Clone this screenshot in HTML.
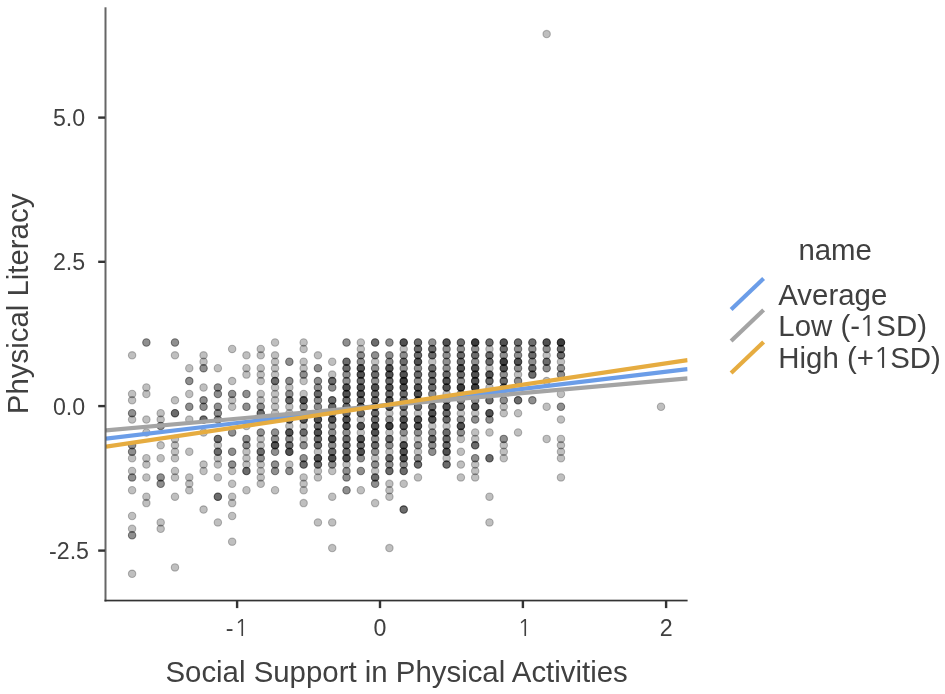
<!DOCTYPE html>
<html><head><meta charset="utf-8"><title>Plot</title><style>html,body{margin:0;padding:0;background:#fff;}svg{display:block;}</style></head><body>
<svg width="945" height="694" viewBox="0 0 945 694">
<rect width="945" height="694" fill="#fff"/>
<defs><clipPath id="pc"><rect x="106" y="0" width="581.6" height="600"/></clipPath></defs>
<g fill="#000" stroke="#000" stroke-width="1.1"><circle cx="132.10" cy="355.35" r="3.7" fill-opacity="0.250" stroke-opacity="0.250"/><circle cx="132.10" cy="393.90" r="3.7" fill-opacity="0.250" stroke-opacity="0.250"/><circle cx="132.10" cy="400.32" r="3.7" fill-opacity="0.250" stroke-opacity="0.250"/><circle cx="132.10" cy="413.18" r="3.7" fill-opacity="0.438" stroke-opacity="0.438"/><circle cx="132.10" cy="419.60" r="3.7" fill-opacity="0.250" stroke-opacity="0.250"/><circle cx="132.10" cy="445.30" r="3.7" fill-opacity="0.438" stroke-opacity="0.438"/><circle cx="132.10" cy="451.73" r="3.7" fill-opacity="0.438" stroke-opacity="0.438"/><circle cx="132.10" cy="458.15" r="3.7" fill-opacity="0.250" stroke-opacity="0.250"/><circle cx="132.10" cy="471.00" r="3.7" fill-opacity="0.250" stroke-opacity="0.250"/><circle cx="132.10" cy="477.42" r="3.7" fill-opacity="0.438" stroke-opacity="0.438"/><circle cx="132.10" cy="490.27" r="3.7" fill-opacity="0.250" stroke-opacity="0.250"/><circle cx="132.10" cy="515.98" r="3.7" fill-opacity="0.250" stroke-opacity="0.250"/><circle cx="132.10" cy="528.83" r="3.7" fill-opacity="0.250" stroke-opacity="0.250"/><circle cx="132.10" cy="535.25" r="3.7" fill-opacity="0.438" stroke-opacity="0.438"/><circle cx="132.10" cy="573.80" r="3.7" fill-opacity="0.250" stroke-opacity="0.250"/><circle cx="146.39" cy="342.50" r="3.7" fill-opacity="0.438" stroke-opacity="0.438"/><circle cx="146.39" cy="387.48" r="3.7" fill-opacity="0.250" stroke-opacity="0.250"/><circle cx="146.39" cy="393.90" r="3.7" fill-opacity="0.250" stroke-opacity="0.250"/><circle cx="146.39" cy="419.60" r="3.7" fill-opacity="0.250" stroke-opacity="0.250"/><circle cx="146.39" cy="432.45" r="3.7" fill-opacity="0.250" stroke-opacity="0.250"/><circle cx="146.39" cy="458.15" r="3.7" fill-opacity="0.250" stroke-opacity="0.250"/><circle cx="146.39" cy="464.57" r="3.7" fill-opacity="0.250" stroke-opacity="0.250"/><circle cx="146.39" cy="477.42" r="3.7" fill-opacity="0.250" stroke-opacity="0.250"/><circle cx="146.39" cy="496.70" r="3.7" fill-opacity="0.250" stroke-opacity="0.250"/><circle cx="146.39" cy="503.12" r="3.7" fill-opacity="0.250" stroke-opacity="0.250"/><circle cx="160.69" cy="413.18" r="3.7" fill-opacity="0.250" stroke-opacity="0.250"/><circle cx="160.69" cy="419.60" r="3.7" fill-opacity="0.250" stroke-opacity="0.250"/><circle cx="160.69" cy="426.02" r="3.7" fill-opacity="0.438" stroke-opacity="0.438"/><circle cx="160.69" cy="445.30" r="3.7" fill-opacity="0.250" stroke-opacity="0.250"/><circle cx="160.69" cy="458.15" r="3.7" fill-opacity="0.250" stroke-opacity="0.250"/><circle cx="160.69" cy="477.42" r="3.7" fill-opacity="0.438" stroke-opacity="0.438"/><circle cx="160.69" cy="483.85" r="3.7" fill-opacity="0.438" stroke-opacity="0.438"/><circle cx="160.69" cy="522.40" r="3.7" fill-opacity="0.250" stroke-opacity="0.250"/><circle cx="160.69" cy="528.83" r="3.7" fill-opacity="0.250" stroke-opacity="0.250"/><circle cx="174.98" cy="342.50" r="3.7" fill-opacity="0.438" stroke-opacity="0.438"/><circle cx="174.98" cy="355.35" r="3.7" fill-opacity="0.250" stroke-opacity="0.250"/><circle cx="174.98" cy="400.32" r="3.7" fill-opacity="0.250" stroke-opacity="0.250"/><circle cx="174.98" cy="413.18" r="3.7" fill-opacity="0.578" stroke-opacity="0.578"/><circle cx="174.98" cy="438.88" r="3.7" fill-opacity="0.250" stroke-opacity="0.250"/><circle cx="174.98" cy="445.30" r="3.7" fill-opacity="0.250" stroke-opacity="0.250"/><circle cx="174.98" cy="451.73" r="3.7" fill-opacity="0.250" stroke-opacity="0.250"/><circle cx="174.98" cy="458.15" r="3.7" fill-opacity="0.250" stroke-opacity="0.250"/><circle cx="174.98" cy="471.00" r="3.7" fill-opacity="0.250" stroke-opacity="0.250"/><circle cx="174.98" cy="477.42" r="3.7" fill-opacity="0.250" stroke-opacity="0.250"/><circle cx="174.98" cy="496.70" r="3.7" fill-opacity="0.250" stroke-opacity="0.250"/><circle cx="174.98" cy="567.38" r="3.7" fill-opacity="0.250" stroke-opacity="0.250"/><circle cx="189.28" cy="368.20" r="3.7" fill-opacity="0.250" stroke-opacity="0.250"/><circle cx="189.28" cy="381.05" r="3.7" fill-opacity="0.438" stroke-opacity="0.438"/><circle cx="189.28" cy="393.90" r="3.7" fill-opacity="0.250" stroke-opacity="0.250"/><circle cx="189.28" cy="406.75" r="3.7" fill-opacity="0.438" stroke-opacity="0.438"/><circle cx="189.28" cy="419.60" r="3.7" fill-opacity="0.250" stroke-opacity="0.250"/><circle cx="189.28" cy="451.73" r="3.7" fill-opacity="0.250" stroke-opacity="0.250"/><circle cx="189.28" cy="477.42" r="3.7" fill-opacity="0.250" stroke-opacity="0.250"/><circle cx="189.28" cy="483.85" r="3.7" fill-opacity="0.250" stroke-opacity="0.250"/><circle cx="189.28" cy="490.27" r="3.7" fill-opacity="0.250" stroke-opacity="0.250"/><circle cx="203.57" cy="355.35" r="3.7" fill-opacity="0.250" stroke-opacity="0.250"/><circle cx="203.57" cy="361.77" r="3.7" fill-opacity="0.250" stroke-opacity="0.250"/><circle cx="203.57" cy="368.20" r="3.7" fill-opacity="0.438" stroke-opacity="0.438"/><circle cx="203.57" cy="387.48" r="3.7" fill-opacity="0.250" stroke-opacity="0.250"/><circle cx="203.57" cy="400.32" r="3.7" fill-opacity="0.438" stroke-opacity="0.438"/><circle cx="203.57" cy="406.75" r="3.7" fill-opacity="0.438" stroke-opacity="0.438"/><circle cx="203.57" cy="419.60" r="3.7" fill-opacity="0.578" stroke-opacity="0.578"/><circle cx="203.57" cy="432.45" r="3.7" fill-opacity="0.250" stroke-opacity="0.250"/><circle cx="203.57" cy="464.57" r="3.7" fill-opacity="0.250" stroke-opacity="0.250"/><circle cx="203.57" cy="471.00" r="3.7" fill-opacity="0.250" stroke-opacity="0.250"/><circle cx="203.57" cy="509.55" r="3.7" fill-opacity="0.250" stroke-opacity="0.250"/><circle cx="217.87" cy="368.20" r="3.7" fill-opacity="0.250" stroke-opacity="0.250"/><circle cx="217.87" cy="387.48" r="3.7" fill-opacity="0.438" stroke-opacity="0.438"/><circle cx="217.87" cy="393.90" r="3.7" fill-opacity="0.438" stroke-opacity="0.438"/><circle cx="217.87" cy="406.75" r="3.7" fill-opacity="0.438" stroke-opacity="0.438"/><circle cx="217.87" cy="413.18" r="3.7" fill-opacity="0.438" stroke-opacity="0.438"/><circle cx="217.87" cy="419.60" r="3.7" fill-opacity="0.438" stroke-opacity="0.438"/><circle cx="217.87" cy="438.88" r="3.7" fill-opacity="0.578" stroke-opacity="0.578"/><circle cx="217.87" cy="445.30" r="3.7" fill-opacity="0.250" stroke-opacity="0.250"/><circle cx="217.87" cy="451.73" r="3.7" fill-opacity="0.578" stroke-opacity="0.578"/><circle cx="217.87" cy="458.15" r="3.7" fill-opacity="0.250" stroke-opacity="0.250"/><circle cx="217.87" cy="464.57" r="3.7" fill-opacity="0.250" stroke-opacity="0.250"/><circle cx="217.87" cy="477.42" r="3.7" fill-opacity="0.250" stroke-opacity="0.250"/><circle cx="217.87" cy="496.70" r="3.7" fill-opacity="0.578" stroke-opacity="0.578"/><circle cx="217.87" cy="522.40" r="3.7" fill-opacity="0.250" stroke-opacity="0.250"/><circle cx="232.16" cy="348.93" r="3.7" fill-opacity="0.250" stroke-opacity="0.250"/><circle cx="232.16" cy="381.05" r="3.7" fill-opacity="0.250" stroke-opacity="0.250"/><circle cx="232.16" cy="393.90" r="3.7" fill-opacity="0.438" stroke-opacity="0.438"/><circle cx="232.16" cy="400.32" r="3.7" fill-opacity="0.250" stroke-opacity="0.250"/><circle cx="232.16" cy="406.75" r="3.7" fill-opacity="0.250" stroke-opacity="0.250"/><circle cx="232.16" cy="432.45" r="3.7" fill-opacity="0.438" stroke-opacity="0.438"/><circle cx="232.16" cy="451.73" r="3.7" fill-opacity="0.438" stroke-opacity="0.438"/><circle cx="232.16" cy="464.57" r="3.7" fill-opacity="0.438" stroke-opacity="0.438"/><circle cx="232.16" cy="471.00" r="3.7" fill-opacity="0.250" stroke-opacity="0.250"/><circle cx="232.16" cy="483.85" r="3.7" fill-opacity="0.250" stroke-opacity="0.250"/><circle cx="232.16" cy="496.70" r="3.7" fill-opacity="0.250" stroke-opacity="0.250"/><circle cx="232.16" cy="503.12" r="3.7" fill-opacity="0.250" stroke-opacity="0.250"/><circle cx="232.16" cy="515.98" r="3.7" fill-opacity="0.250" stroke-opacity="0.250"/><circle cx="232.16" cy="541.67" r="3.7" fill-opacity="0.250" stroke-opacity="0.250"/><circle cx="246.46" cy="355.35" r="3.7" fill-opacity="0.250" stroke-opacity="0.250"/><circle cx="246.46" cy="368.20" r="3.7" fill-opacity="0.250" stroke-opacity="0.250"/><circle cx="246.46" cy="374.62" r="3.7" fill-opacity="0.250" stroke-opacity="0.250"/><circle cx="246.46" cy="393.90" r="3.7" fill-opacity="0.438" stroke-opacity="0.438"/><circle cx="246.46" cy="406.75" r="3.7" fill-opacity="0.438" stroke-opacity="0.438"/><circle cx="246.46" cy="426.02" r="3.7" fill-opacity="0.250" stroke-opacity="0.250"/><circle cx="246.46" cy="438.88" r="3.7" fill-opacity="0.438" stroke-opacity="0.438"/><circle cx="246.46" cy="445.30" r="3.7" fill-opacity="0.438" stroke-opacity="0.438"/><circle cx="246.46" cy="451.73" r="3.7" fill-opacity="0.250" stroke-opacity="0.250"/><circle cx="246.46" cy="458.15" r="3.7" fill-opacity="0.250" stroke-opacity="0.250"/><circle cx="246.46" cy="464.57" r="3.7" fill-opacity="0.250" stroke-opacity="0.250"/><circle cx="246.46" cy="471.00" r="3.7" fill-opacity="0.578" stroke-opacity="0.578"/><circle cx="246.46" cy="490.27" r="3.7" fill-opacity="0.250" stroke-opacity="0.250"/><circle cx="260.75" cy="348.93" r="3.7" fill-opacity="0.250" stroke-opacity="0.250"/><circle cx="260.75" cy="355.35" r="3.7" fill-opacity="0.250" stroke-opacity="0.250"/><circle cx="260.75" cy="368.20" r="3.7" fill-opacity="0.250" stroke-opacity="0.250"/><circle cx="260.75" cy="374.62" r="3.7" fill-opacity="0.250" stroke-opacity="0.250"/><circle cx="260.75" cy="381.05" r="3.7" fill-opacity="0.250" stroke-opacity="0.250"/><circle cx="260.75" cy="393.90" r="3.7" fill-opacity="0.250" stroke-opacity="0.250"/><circle cx="260.75" cy="400.32" r="3.7" fill-opacity="0.250" stroke-opacity="0.250"/><circle cx="260.75" cy="406.75" r="3.7" fill-opacity="0.438" stroke-opacity="0.438"/><circle cx="260.75" cy="413.18" r="3.7" fill-opacity="0.578" stroke-opacity="0.578"/><circle cx="260.75" cy="432.45" r="3.7" fill-opacity="0.438" stroke-opacity="0.438"/><circle cx="260.75" cy="438.88" r="3.7" fill-opacity="0.250" stroke-opacity="0.250"/><circle cx="260.75" cy="445.30" r="3.7" fill-opacity="0.250" stroke-opacity="0.250"/><circle cx="260.75" cy="451.73" r="3.7" fill-opacity="0.578" stroke-opacity="0.578"/><circle cx="260.75" cy="458.15" r="3.7" fill-opacity="0.438" stroke-opacity="0.438"/><circle cx="260.75" cy="464.57" r="3.7" fill-opacity="0.250" stroke-opacity="0.250"/><circle cx="260.75" cy="471.00" r="3.7" fill-opacity="0.250" stroke-opacity="0.250"/><circle cx="260.75" cy="477.42" r="3.7" fill-opacity="0.250" stroke-opacity="0.250"/><circle cx="260.75" cy="483.85" r="3.7" fill-opacity="0.250" stroke-opacity="0.250"/><circle cx="275.05" cy="342.50" r="3.7" fill-opacity="0.250" stroke-opacity="0.250"/><circle cx="275.05" cy="355.35" r="3.7" fill-opacity="0.250" stroke-opacity="0.250"/><circle cx="275.05" cy="361.77" r="3.7" fill-opacity="0.250" stroke-opacity="0.250"/><circle cx="275.05" cy="368.20" r="3.7" fill-opacity="0.250" stroke-opacity="0.250"/><circle cx="275.05" cy="374.62" r="3.7" fill-opacity="0.250" stroke-opacity="0.250"/><circle cx="275.05" cy="381.05" r="3.7" fill-opacity="0.578" stroke-opacity="0.578"/><circle cx="275.05" cy="387.48" r="3.7" fill-opacity="0.250" stroke-opacity="0.250"/><circle cx="275.05" cy="393.90" r="3.7" fill-opacity="0.250" stroke-opacity="0.250"/><circle cx="275.05" cy="400.32" r="3.7" fill-opacity="0.250" stroke-opacity="0.250"/><circle cx="275.05" cy="406.75" r="3.7" fill-opacity="0.250" stroke-opacity="0.250"/><circle cx="275.05" cy="413.18" r="3.7" fill-opacity="0.250" stroke-opacity="0.250"/><circle cx="275.05" cy="432.45" r="3.7" fill-opacity="0.438" stroke-opacity="0.438"/><circle cx="275.05" cy="438.88" r="3.7" fill-opacity="0.438" stroke-opacity="0.438"/><circle cx="275.05" cy="445.30" r="3.7" fill-opacity="0.684" stroke-opacity="0.684"/><circle cx="275.05" cy="451.73" r="3.7" fill-opacity="0.438" stroke-opacity="0.438"/><circle cx="275.05" cy="464.57" r="3.7" fill-opacity="0.438" stroke-opacity="0.438"/><circle cx="275.05" cy="471.00" r="3.7" fill-opacity="0.438" stroke-opacity="0.438"/><circle cx="275.05" cy="490.27" r="3.7" fill-opacity="0.250" stroke-opacity="0.250"/><circle cx="289.35" cy="361.77" r="3.7" fill-opacity="0.438" stroke-opacity="0.438"/><circle cx="289.35" cy="381.05" r="3.7" fill-opacity="0.438" stroke-opacity="0.438"/><circle cx="289.35" cy="387.48" r="3.7" fill-opacity="0.250" stroke-opacity="0.250"/><circle cx="289.35" cy="393.90" r="3.7" fill-opacity="0.438" stroke-opacity="0.438"/><circle cx="289.35" cy="400.32" r="3.7" fill-opacity="0.578" stroke-opacity="0.578"/><circle cx="289.35" cy="406.75" r="3.7" fill-opacity="0.250" stroke-opacity="0.250"/><circle cx="289.35" cy="413.18" r="3.7" fill-opacity="0.250" stroke-opacity="0.250"/><circle cx="289.35" cy="419.60" r="3.7" fill-opacity="0.578" stroke-opacity="0.578"/><circle cx="289.35" cy="426.02" r="3.7" fill-opacity="0.250" stroke-opacity="0.250"/><circle cx="289.35" cy="432.45" r="3.7" fill-opacity="0.684" stroke-opacity="0.684"/><circle cx="289.35" cy="438.88" r="3.7" fill-opacity="0.438" stroke-opacity="0.438"/><circle cx="289.35" cy="445.30" r="3.7" fill-opacity="0.578" stroke-opacity="0.578"/><circle cx="289.35" cy="451.73" r="3.7" fill-opacity="0.684" stroke-opacity="0.684"/><circle cx="289.35" cy="464.57" r="3.7" fill-opacity="0.250" stroke-opacity="0.250"/><circle cx="289.35" cy="471.00" r="3.7" fill-opacity="0.438" stroke-opacity="0.438"/><circle cx="303.64" cy="342.50" r="3.7" fill-opacity="0.250" stroke-opacity="0.250"/><circle cx="303.64" cy="348.93" r="3.7" fill-opacity="0.250" stroke-opacity="0.250"/><circle cx="303.64" cy="361.77" r="3.7" fill-opacity="0.250" stroke-opacity="0.250"/><circle cx="303.64" cy="368.20" r="3.7" fill-opacity="0.250" stroke-opacity="0.250"/><circle cx="303.64" cy="374.62" r="3.7" fill-opacity="0.438" stroke-opacity="0.438"/><circle cx="303.64" cy="381.05" r="3.7" fill-opacity="0.250" stroke-opacity="0.250"/><circle cx="303.64" cy="393.90" r="3.7" fill-opacity="0.250" stroke-opacity="0.250"/><circle cx="303.64" cy="400.32" r="3.7" fill-opacity="0.684" stroke-opacity="0.684"/><circle cx="303.64" cy="406.75" r="3.7" fill-opacity="0.438" stroke-opacity="0.438"/><circle cx="303.64" cy="413.18" r="3.7" fill-opacity="0.578" stroke-opacity="0.578"/><circle cx="303.64" cy="419.60" r="3.7" fill-opacity="0.684" stroke-opacity="0.684"/><circle cx="303.64" cy="426.02" r="3.7" fill-opacity="0.250" stroke-opacity="0.250"/><circle cx="303.64" cy="432.45" r="3.7" fill-opacity="0.578" stroke-opacity="0.578"/><circle cx="303.64" cy="438.88" r="3.7" fill-opacity="0.250" stroke-opacity="0.250"/><circle cx="303.64" cy="445.30" r="3.7" fill-opacity="0.438" stroke-opacity="0.438"/><circle cx="303.64" cy="458.15" r="3.7" fill-opacity="0.438" stroke-opacity="0.438"/><circle cx="303.64" cy="464.57" r="3.7" fill-opacity="0.578" stroke-opacity="0.578"/><circle cx="303.64" cy="477.42" r="3.7" fill-opacity="0.250" stroke-opacity="0.250"/><circle cx="303.64" cy="483.85" r="3.7" fill-opacity="0.250" stroke-opacity="0.250"/><circle cx="303.64" cy="490.27" r="3.7" fill-opacity="0.250" stroke-opacity="0.250"/><circle cx="303.64" cy="503.12" r="3.7" fill-opacity="0.250" stroke-opacity="0.250"/><circle cx="317.94" cy="355.35" r="3.7" fill-opacity="0.250" stroke-opacity="0.250"/><circle cx="317.94" cy="368.20" r="3.7" fill-opacity="0.438" stroke-opacity="0.438"/><circle cx="317.94" cy="381.05" r="3.7" fill-opacity="0.438" stroke-opacity="0.438"/><circle cx="317.94" cy="387.48" r="3.7" fill-opacity="0.438" stroke-opacity="0.438"/><circle cx="317.94" cy="393.90" r="3.7" fill-opacity="0.578" stroke-opacity="0.578"/><circle cx="317.94" cy="400.32" r="3.7" fill-opacity="0.438" stroke-opacity="0.438"/><circle cx="317.94" cy="406.75" r="3.7" fill-opacity="0.438" stroke-opacity="0.438"/><circle cx="317.94" cy="413.18" r="3.7" fill-opacity="0.438" stroke-opacity="0.438"/><circle cx="317.94" cy="419.60" r="3.7" fill-opacity="0.684" stroke-opacity="0.684"/><circle cx="317.94" cy="426.02" r="3.7" fill-opacity="0.578" stroke-opacity="0.578"/><circle cx="317.94" cy="432.45" r="3.7" fill-opacity="0.684" stroke-opacity="0.684"/><circle cx="317.94" cy="438.88" r="3.7" fill-opacity="0.578" stroke-opacity="0.578"/><circle cx="317.94" cy="445.30" r="3.7" fill-opacity="0.578" stroke-opacity="0.578"/><circle cx="317.94" cy="451.73" r="3.7" fill-opacity="0.250" stroke-opacity="0.250"/><circle cx="317.94" cy="458.15" r="3.7" fill-opacity="0.684" stroke-opacity="0.684"/><circle cx="317.94" cy="464.57" r="3.7" fill-opacity="0.578" stroke-opacity="0.578"/><circle cx="317.94" cy="471.00" r="3.7" fill-opacity="0.250" stroke-opacity="0.250"/><circle cx="317.94" cy="477.42" r="3.7" fill-opacity="0.250" stroke-opacity="0.250"/><circle cx="317.94" cy="522.40" r="3.7" fill-opacity="0.250" stroke-opacity="0.250"/><circle cx="332.23" cy="361.77" r="3.7" fill-opacity="0.250" stroke-opacity="0.250"/><circle cx="332.23" cy="374.62" r="3.7" fill-opacity="0.250" stroke-opacity="0.250"/><circle cx="332.23" cy="381.05" r="3.7" fill-opacity="0.578" stroke-opacity="0.578"/><circle cx="332.23" cy="387.48" r="3.7" fill-opacity="0.438" stroke-opacity="0.438"/><circle cx="332.23" cy="400.32" r="3.7" fill-opacity="0.578" stroke-opacity="0.578"/><circle cx="332.23" cy="406.75" r="3.7" fill-opacity="0.578" stroke-opacity="0.578"/><circle cx="332.23" cy="413.18" r="3.7" fill-opacity="0.438" stroke-opacity="0.438"/><circle cx="332.23" cy="419.60" r="3.7" fill-opacity="0.684" stroke-opacity="0.684"/><circle cx="332.23" cy="426.02" r="3.7" fill-opacity="0.438" stroke-opacity="0.438"/><circle cx="332.23" cy="432.45" r="3.7" fill-opacity="0.438" stroke-opacity="0.438"/><circle cx="332.23" cy="438.88" r="3.7" fill-opacity="0.684" stroke-opacity="0.684"/><circle cx="332.23" cy="445.30" r="3.7" fill-opacity="0.438" stroke-opacity="0.438"/><circle cx="332.23" cy="451.73" r="3.7" fill-opacity="0.578" stroke-opacity="0.578"/><circle cx="332.23" cy="458.15" r="3.7" fill-opacity="0.684" stroke-opacity="0.684"/><circle cx="332.23" cy="464.57" r="3.7" fill-opacity="0.438" stroke-opacity="0.438"/><circle cx="332.23" cy="471.00" r="3.7" fill-opacity="0.250" stroke-opacity="0.250"/><circle cx="332.23" cy="496.70" r="3.7" fill-opacity="0.250" stroke-opacity="0.250"/><circle cx="332.23" cy="522.40" r="3.7" fill-opacity="0.250" stroke-opacity="0.250"/><circle cx="332.23" cy="548.10" r="3.7" fill-opacity="0.250" stroke-opacity="0.250"/><circle cx="346.52" cy="342.50" r="3.7" fill-opacity="0.438" stroke-opacity="0.438"/><circle cx="346.52" cy="361.77" r="3.7" fill-opacity="0.578" stroke-opacity="0.578"/><circle cx="346.52" cy="368.20" r="3.7" fill-opacity="0.578" stroke-opacity="0.578"/><circle cx="346.52" cy="374.62" r="3.7" fill-opacity="0.438" stroke-opacity="0.438"/><circle cx="346.52" cy="381.05" r="3.7" fill-opacity="0.438" stroke-opacity="0.438"/><circle cx="346.52" cy="387.48" r="3.7" fill-opacity="0.684" stroke-opacity="0.684"/><circle cx="346.52" cy="393.90" r="3.7" fill-opacity="0.684" stroke-opacity="0.684"/><circle cx="346.52" cy="400.32" r="3.7" fill-opacity="0.578" stroke-opacity="0.578"/><circle cx="346.52" cy="406.75" r="3.7" fill-opacity="0.578" stroke-opacity="0.578"/><circle cx="346.52" cy="413.18" r="3.7" fill-opacity="0.578" stroke-opacity="0.578"/><circle cx="346.52" cy="419.60" r="3.7" fill-opacity="0.684" stroke-opacity="0.684"/><circle cx="346.52" cy="426.02" r="3.7" fill-opacity="0.684" stroke-opacity="0.684"/><circle cx="346.52" cy="432.45" r="3.7" fill-opacity="0.438" stroke-opacity="0.438"/><circle cx="346.52" cy="438.88" r="3.7" fill-opacity="0.578" stroke-opacity="0.578"/><circle cx="346.52" cy="445.30" r="3.7" fill-opacity="0.578" stroke-opacity="0.578"/><circle cx="346.52" cy="451.73" r="3.7" fill-opacity="0.578" stroke-opacity="0.578"/><circle cx="346.52" cy="458.15" r="3.7" fill-opacity="0.684" stroke-opacity="0.684"/><circle cx="346.52" cy="464.57" r="3.7" fill-opacity="0.250" stroke-opacity="0.250"/><circle cx="346.52" cy="471.00" r="3.7" fill-opacity="0.438" stroke-opacity="0.438"/><circle cx="346.52" cy="477.42" r="3.7" fill-opacity="0.438" stroke-opacity="0.438"/><circle cx="346.52" cy="490.27" r="3.7" fill-opacity="0.438" stroke-opacity="0.438"/><circle cx="360.82" cy="342.50" r="3.7" fill-opacity="0.250" stroke-opacity="0.250"/><circle cx="360.82" cy="348.93" r="3.7" fill-opacity="0.250" stroke-opacity="0.250"/><circle cx="360.82" cy="355.35" r="3.7" fill-opacity="0.438" stroke-opacity="0.438"/><circle cx="360.82" cy="361.77" r="3.7" fill-opacity="0.438" stroke-opacity="0.438"/><circle cx="360.82" cy="368.20" r="3.7" fill-opacity="0.684" stroke-opacity="0.684"/><circle cx="360.82" cy="374.62" r="3.7" fill-opacity="0.684" stroke-opacity="0.684"/><circle cx="360.82" cy="381.05" r="3.7" fill-opacity="0.578" stroke-opacity="0.578"/><circle cx="360.82" cy="387.48" r="3.7" fill-opacity="0.684" stroke-opacity="0.684"/><circle cx="360.82" cy="393.90" r="3.7" fill-opacity="0.684" stroke-opacity="0.684"/><circle cx="360.82" cy="400.32" r="3.7" fill-opacity="0.578" stroke-opacity="0.578"/><circle cx="360.82" cy="406.75" r="3.7" fill-opacity="0.684" stroke-opacity="0.684"/><circle cx="360.82" cy="413.18" r="3.7" fill-opacity="0.578" stroke-opacity="0.578"/><circle cx="360.82" cy="419.60" r="3.7" fill-opacity="0.250" stroke-opacity="0.250"/><circle cx="360.82" cy="426.02" r="3.7" fill-opacity="0.684" stroke-opacity="0.684"/><circle cx="360.82" cy="432.45" r="3.7" fill-opacity="0.250" stroke-opacity="0.250"/><circle cx="360.82" cy="438.88" r="3.7" fill-opacity="0.684" stroke-opacity="0.684"/><circle cx="360.82" cy="445.30" r="3.7" fill-opacity="0.578" stroke-opacity="0.578"/><circle cx="360.82" cy="451.73" r="3.7" fill-opacity="0.684" stroke-opacity="0.684"/><circle cx="360.82" cy="458.15" r="3.7" fill-opacity="0.438" stroke-opacity="0.438"/><circle cx="360.82" cy="471.00" r="3.7" fill-opacity="0.438" stroke-opacity="0.438"/><circle cx="360.82" cy="490.27" r="3.7" fill-opacity="0.250" stroke-opacity="0.250"/><circle cx="375.12" cy="342.50" r="3.7" fill-opacity="0.578" stroke-opacity="0.578"/><circle cx="375.12" cy="355.35" r="3.7" fill-opacity="0.438" stroke-opacity="0.438"/><circle cx="375.12" cy="361.77" r="3.7" fill-opacity="0.250" stroke-opacity="0.250"/><circle cx="375.12" cy="368.20" r="3.7" fill-opacity="0.438" stroke-opacity="0.438"/><circle cx="375.12" cy="374.62" r="3.7" fill-opacity="0.578" stroke-opacity="0.578"/><circle cx="375.12" cy="381.05" r="3.7" fill-opacity="0.438" stroke-opacity="0.438"/><circle cx="375.12" cy="387.48" r="3.7" fill-opacity="0.684" stroke-opacity="0.684"/><circle cx="375.12" cy="393.90" r="3.7" fill-opacity="0.578" stroke-opacity="0.578"/><circle cx="375.12" cy="400.32" r="3.7" fill-opacity="0.578" stroke-opacity="0.578"/><circle cx="375.12" cy="406.75" r="3.7" fill-opacity="0.578" stroke-opacity="0.578"/><circle cx="375.12" cy="413.18" r="3.7" fill-opacity="0.578" stroke-opacity="0.578"/><circle cx="375.12" cy="419.60" r="3.7" fill-opacity="0.578" stroke-opacity="0.578"/><circle cx="375.12" cy="426.02" r="3.7" fill-opacity="0.684" stroke-opacity="0.684"/><circle cx="375.12" cy="432.45" r="3.7" fill-opacity="0.684" stroke-opacity="0.684"/><circle cx="375.12" cy="438.88" r="3.7" fill-opacity="0.438" stroke-opacity="0.438"/><circle cx="375.12" cy="445.30" r="3.7" fill-opacity="0.578" stroke-opacity="0.578"/><circle cx="375.12" cy="451.73" r="3.7" fill-opacity="0.438" stroke-opacity="0.438"/><circle cx="375.12" cy="458.15" r="3.7" fill-opacity="0.250" stroke-opacity="0.250"/><circle cx="375.12" cy="464.57" r="3.7" fill-opacity="0.438" stroke-opacity="0.438"/><circle cx="375.12" cy="471.00" r="3.7" fill-opacity="0.250" stroke-opacity="0.250"/><circle cx="375.12" cy="477.42" r="3.7" fill-opacity="0.578" stroke-opacity="0.578"/><circle cx="375.12" cy="483.85" r="3.7" fill-opacity="0.438" stroke-opacity="0.438"/><circle cx="375.12" cy="503.12" r="3.7" fill-opacity="0.250" stroke-opacity="0.250"/><circle cx="389.41" cy="342.50" r="3.7" fill-opacity="0.438" stroke-opacity="0.438"/><circle cx="389.41" cy="355.35" r="3.7" fill-opacity="0.438" stroke-opacity="0.438"/><circle cx="389.41" cy="361.77" r="3.7" fill-opacity="0.438" stroke-opacity="0.438"/><circle cx="389.41" cy="368.20" r="3.7" fill-opacity="0.684" stroke-opacity="0.684"/><circle cx="389.41" cy="374.62" r="3.7" fill-opacity="0.684" stroke-opacity="0.684"/><circle cx="389.41" cy="381.05" r="3.7" fill-opacity="0.578" stroke-opacity="0.578"/><circle cx="389.41" cy="387.48" r="3.7" fill-opacity="0.684" stroke-opacity="0.684"/><circle cx="389.41" cy="393.90" r="3.7" fill-opacity="0.578" stroke-opacity="0.578"/><circle cx="389.41" cy="400.32" r="3.7" fill-opacity="0.684" stroke-opacity="0.684"/><circle cx="389.41" cy="406.75" r="3.7" fill-opacity="0.684" stroke-opacity="0.684"/><circle cx="389.41" cy="413.18" r="3.7" fill-opacity="0.250" stroke-opacity="0.250"/><circle cx="389.41" cy="419.60" r="3.7" fill-opacity="0.438" stroke-opacity="0.438"/><circle cx="389.41" cy="426.02" r="3.7" fill-opacity="0.763" stroke-opacity="0.763"/><circle cx="389.41" cy="432.45" r="3.7" fill-opacity="0.250" stroke-opacity="0.250"/><circle cx="389.41" cy="438.88" r="3.7" fill-opacity="0.578" stroke-opacity="0.578"/><circle cx="389.41" cy="445.30" r="3.7" fill-opacity="0.438" stroke-opacity="0.438"/><circle cx="389.41" cy="451.73" r="3.7" fill-opacity="0.250" stroke-opacity="0.250"/><circle cx="389.41" cy="458.15" r="3.7" fill-opacity="0.578" stroke-opacity="0.578"/><circle cx="389.41" cy="464.57" r="3.7" fill-opacity="0.438" stroke-opacity="0.438"/><circle cx="389.41" cy="471.00" r="3.7" fill-opacity="0.578" stroke-opacity="0.578"/><circle cx="389.41" cy="483.85" r="3.7" fill-opacity="0.250" stroke-opacity="0.250"/><circle cx="389.41" cy="490.27" r="3.7" fill-opacity="0.250" stroke-opacity="0.250"/><circle cx="389.41" cy="496.70" r="3.7" fill-opacity="0.250" stroke-opacity="0.250"/><circle cx="389.41" cy="548.10" r="3.7" fill-opacity="0.250" stroke-opacity="0.250"/><circle cx="403.71" cy="342.50" r="3.7" fill-opacity="0.684" stroke-opacity="0.684"/><circle cx="403.71" cy="348.93" r="3.7" fill-opacity="0.250" stroke-opacity="0.250"/><circle cx="403.71" cy="355.35" r="3.7" fill-opacity="0.438" stroke-opacity="0.438"/><circle cx="403.71" cy="361.77" r="3.7" fill-opacity="0.578" stroke-opacity="0.578"/><circle cx="403.71" cy="368.20" r="3.7" fill-opacity="0.438" stroke-opacity="0.438"/><circle cx="403.71" cy="374.62" r="3.7" fill-opacity="0.684" stroke-opacity="0.684"/><circle cx="403.71" cy="381.05" r="3.7" fill-opacity="0.763" stroke-opacity="0.763"/><circle cx="403.71" cy="387.48" r="3.7" fill-opacity="0.684" stroke-opacity="0.684"/><circle cx="403.71" cy="393.90" r="3.7" fill-opacity="0.578" stroke-opacity="0.578"/><circle cx="403.71" cy="400.32" r="3.7" fill-opacity="0.578" stroke-opacity="0.578"/><circle cx="403.71" cy="406.75" r="3.7" fill-opacity="0.578" stroke-opacity="0.578"/><circle cx="403.71" cy="413.18" r="3.7" fill-opacity="0.438" stroke-opacity="0.438"/><circle cx="403.71" cy="419.60" r="3.7" fill-opacity="0.684" stroke-opacity="0.684"/><circle cx="403.71" cy="426.02" r="3.7" fill-opacity="0.684" stroke-opacity="0.684"/><circle cx="403.71" cy="432.45" r="3.7" fill-opacity="0.438" stroke-opacity="0.438"/><circle cx="403.71" cy="438.88" r="3.7" fill-opacity="0.250" stroke-opacity="0.250"/><circle cx="403.71" cy="445.30" r="3.7" fill-opacity="0.684" stroke-opacity="0.684"/><circle cx="403.71" cy="451.73" r="3.7" fill-opacity="0.684" stroke-opacity="0.684"/><circle cx="403.71" cy="458.15" r="3.7" fill-opacity="0.684" stroke-opacity="0.684"/><circle cx="403.71" cy="464.57" r="3.7" fill-opacity="0.438" stroke-opacity="0.438"/><circle cx="403.71" cy="471.00" r="3.7" fill-opacity="0.578" stroke-opacity="0.578"/><circle cx="403.71" cy="483.85" r="3.7" fill-opacity="0.250" stroke-opacity="0.250"/><circle cx="403.71" cy="509.55" r="3.7" fill-opacity="0.578" stroke-opacity="0.578"/><circle cx="418.00" cy="342.50" r="3.7" fill-opacity="0.578" stroke-opacity="0.578"/><circle cx="418.00" cy="348.93" r="3.7" fill-opacity="0.578" stroke-opacity="0.578"/><circle cx="418.00" cy="355.35" r="3.7" fill-opacity="0.578" stroke-opacity="0.578"/><circle cx="418.00" cy="361.77" r="3.7" fill-opacity="0.684" stroke-opacity="0.684"/><circle cx="418.00" cy="368.20" r="3.7" fill-opacity="0.438" stroke-opacity="0.438"/><circle cx="418.00" cy="374.62" r="3.7" fill-opacity="0.578" stroke-opacity="0.578"/><circle cx="418.00" cy="381.05" r="3.7" fill-opacity="0.438" stroke-opacity="0.438"/><circle cx="418.00" cy="387.48" r="3.7" fill-opacity="0.684" stroke-opacity="0.684"/><circle cx="418.00" cy="393.90" r="3.7" fill-opacity="0.684" stroke-opacity="0.684"/><circle cx="418.00" cy="400.32" r="3.7" fill-opacity="0.578" stroke-opacity="0.578"/><circle cx="418.00" cy="406.75" r="3.7" fill-opacity="0.578" stroke-opacity="0.578"/><circle cx="418.00" cy="413.18" r="3.7" fill-opacity="0.250" stroke-opacity="0.250"/><circle cx="418.00" cy="419.60" r="3.7" fill-opacity="0.684" stroke-opacity="0.684"/><circle cx="418.00" cy="426.02" r="3.7" fill-opacity="0.684" stroke-opacity="0.684"/><circle cx="418.00" cy="432.45" r="3.7" fill-opacity="0.438" stroke-opacity="0.438"/><circle cx="418.00" cy="438.88" r="3.7" fill-opacity="0.250" stroke-opacity="0.250"/><circle cx="418.00" cy="445.30" r="3.7" fill-opacity="0.438" stroke-opacity="0.438"/><circle cx="418.00" cy="451.73" r="3.7" fill-opacity="0.250" stroke-opacity="0.250"/><circle cx="418.00" cy="458.15" r="3.7" fill-opacity="0.438" stroke-opacity="0.438"/><circle cx="418.00" cy="464.57" r="3.7" fill-opacity="0.578" stroke-opacity="0.578"/><circle cx="418.00" cy="477.42" r="3.7" fill-opacity="0.250" stroke-opacity="0.250"/><circle cx="432.29" cy="342.50" r="3.7" fill-opacity="0.438" stroke-opacity="0.438"/><circle cx="432.29" cy="348.93" r="3.7" fill-opacity="0.578" stroke-opacity="0.578"/><circle cx="432.29" cy="355.35" r="3.7" fill-opacity="0.578" stroke-opacity="0.578"/><circle cx="432.29" cy="361.77" r="3.7" fill-opacity="0.250" stroke-opacity="0.250"/><circle cx="432.29" cy="368.20" r="3.7" fill-opacity="0.578" stroke-opacity="0.578"/><circle cx="432.29" cy="374.62" r="3.7" fill-opacity="0.578" stroke-opacity="0.578"/><circle cx="432.29" cy="381.05" r="3.7" fill-opacity="0.578" stroke-opacity="0.578"/><circle cx="432.29" cy="387.48" r="3.7" fill-opacity="0.578" stroke-opacity="0.578"/><circle cx="432.29" cy="393.90" r="3.7" fill-opacity="0.438" stroke-opacity="0.438"/><circle cx="432.29" cy="400.32" r="3.7" fill-opacity="0.438" stroke-opacity="0.438"/><circle cx="432.29" cy="406.75" r="3.7" fill-opacity="0.578" stroke-opacity="0.578"/><circle cx="432.29" cy="413.18" r="3.7" fill-opacity="0.684" stroke-opacity="0.684"/><circle cx="432.29" cy="419.60" r="3.7" fill-opacity="0.684" stroke-opacity="0.684"/><circle cx="432.29" cy="426.02" r="3.7" fill-opacity="0.250" stroke-opacity="0.250"/><circle cx="432.29" cy="432.45" r="3.7" fill-opacity="0.438" stroke-opacity="0.438"/><circle cx="432.29" cy="438.88" r="3.7" fill-opacity="0.578" stroke-opacity="0.578"/><circle cx="432.29" cy="445.30" r="3.7" fill-opacity="0.438" stroke-opacity="0.438"/><circle cx="432.29" cy="451.73" r="3.7" fill-opacity="0.438" stroke-opacity="0.438"/><circle cx="446.59" cy="342.50" r="3.7" fill-opacity="0.684" stroke-opacity="0.684"/><circle cx="446.59" cy="348.93" r="3.7" fill-opacity="0.438" stroke-opacity="0.438"/><circle cx="446.59" cy="355.35" r="3.7" fill-opacity="0.438" stroke-opacity="0.438"/><circle cx="446.59" cy="361.77" r="3.7" fill-opacity="0.438" stroke-opacity="0.438"/><circle cx="446.59" cy="368.20" r="3.7" fill-opacity="0.438" stroke-opacity="0.438"/><circle cx="446.59" cy="374.62" r="3.7" fill-opacity="0.578" stroke-opacity="0.578"/><circle cx="446.59" cy="381.05" r="3.7" fill-opacity="0.684" stroke-opacity="0.684"/><circle cx="446.59" cy="387.48" r="3.7" fill-opacity="0.684" stroke-opacity="0.684"/><circle cx="446.59" cy="393.90" r="3.7" fill-opacity="0.250" stroke-opacity="0.250"/><circle cx="446.59" cy="400.32" r="3.7" fill-opacity="0.438" stroke-opacity="0.438"/><circle cx="446.59" cy="406.75" r="3.7" fill-opacity="0.684" stroke-opacity="0.684"/><circle cx="446.59" cy="413.18" r="3.7" fill-opacity="0.578" stroke-opacity="0.578"/><circle cx="446.59" cy="419.60" r="3.7" fill-opacity="0.578" stroke-opacity="0.578"/><circle cx="446.59" cy="426.02" r="3.7" fill-opacity="0.250" stroke-opacity="0.250"/><circle cx="446.59" cy="432.45" r="3.7" fill-opacity="0.578" stroke-opacity="0.578"/><circle cx="446.59" cy="438.88" r="3.7" fill-opacity="0.578" stroke-opacity="0.578"/><circle cx="446.59" cy="445.30" r="3.7" fill-opacity="0.578" stroke-opacity="0.578"/><circle cx="446.59" cy="451.73" r="3.7" fill-opacity="0.684" stroke-opacity="0.684"/><circle cx="446.59" cy="458.15" r="3.7" fill-opacity="0.250" stroke-opacity="0.250"/><circle cx="446.59" cy="464.57" r="3.7" fill-opacity="0.578" stroke-opacity="0.578"/><circle cx="460.88" cy="342.50" r="3.7" fill-opacity="0.578" stroke-opacity="0.578"/><circle cx="460.88" cy="348.93" r="3.7" fill-opacity="0.438" stroke-opacity="0.438"/><circle cx="460.88" cy="355.35" r="3.7" fill-opacity="0.578" stroke-opacity="0.578"/><circle cx="460.88" cy="361.77" r="3.7" fill-opacity="0.578" stroke-opacity="0.578"/><circle cx="460.88" cy="368.20" r="3.7" fill-opacity="0.684" stroke-opacity="0.684"/><circle cx="460.88" cy="374.62" r="3.7" fill-opacity="0.578" stroke-opacity="0.578"/><circle cx="460.88" cy="381.05" r="3.7" fill-opacity="0.438" stroke-opacity="0.438"/><circle cx="460.88" cy="387.48" r="3.7" fill-opacity="0.763" stroke-opacity="0.763"/><circle cx="460.88" cy="393.90" r="3.7" fill-opacity="0.438" stroke-opacity="0.438"/><circle cx="460.88" cy="400.32" r="3.7" fill-opacity="0.438" stroke-opacity="0.438"/><circle cx="460.88" cy="406.75" r="3.7" fill-opacity="0.578" stroke-opacity="0.578"/><circle cx="460.88" cy="413.18" r="3.7" fill-opacity="0.250" stroke-opacity="0.250"/><circle cx="460.88" cy="419.60" r="3.7" fill-opacity="0.438" stroke-opacity="0.438"/><circle cx="460.88" cy="426.02" r="3.7" fill-opacity="0.684" stroke-opacity="0.684"/><circle cx="460.88" cy="432.45" r="3.7" fill-opacity="0.438" stroke-opacity="0.438"/><circle cx="460.88" cy="438.88" r="3.7" fill-opacity="0.250" stroke-opacity="0.250"/><circle cx="460.88" cy="451.73" r="3.7" fill-opacity="0.250" stroke-opacity="0.250"/><circle cx="460.88" cy="464.57" r="3.7" fill-opacity="0.250" stroke-opacity="0.250"/><circle cx="460.88" cy="477.42" r="3.7" fill-opacity="0.250" stroke-opacity="0.250"/><circle cx="475.18" cy="342.50" r="3.7" fill-opacity="0.763" stroke-opacity="0.763"/><circle cx="475.18" cy="348.93" r="3.7" fill-opacity="0.438" stroke-opacity="0.438"/><circle cx="475.18" cy="355.35" r="3.7" fill-opacity="0.578" stroke-opacity="0.578"/><circle cx="475.18" cy="361.77" r="3.7" fill-opacity="0.438" stroke-opacity="0.438"/><circle cx="475.18" cy="368.20" r="3.7" fill-opacity="0.684" stroke-opacity="0.684"/><circle cx="475.18" cy="374.62" r="3.7" fill-opacity="0.684" stroke-opacity="0.684"/><circle cx="475.18" cy="381.05" r="3.7" fill-opacity="0.684" stroke-opacity="0.684"/><circle cx="475.18" cy="387.48" r="3.7" fill-opacity="0.763" stroke-opacity="0.763"/><circle cx="475.18" cy="393.90" r="3.7" fill-opacity="0.578" stroke-opacity="0.578"/><circle cx="475.18" cy="400.32" r="3.7" fill-opacity="0.438" stroke-opacity="0.438"/><circle cx="475.18" cy="406.75" r="3.7" fill-opacity="0.684" stroke-opacity="0.684"/><circle cx="475.18" cy="413.18" r="3.7" fill-opacity="0.250" stroke-opacity="0.250"/><circle cx="475.18" cy="419.60" r="3.7" fill-opacity="0.438" stroke-opacity="0.438"/><circle cx="475.18" cy="432.45" r="3.7" fill-opacity="0.250" stroke-opacity="0.250"/><circle cx="475.18" cy="438.88" r="3.7" fill-opacity="0.250" stroke-opacity="0.250"/><circle cx="475.18" cy="445.30" r="3.7" fill-opacity="0.578" stroke-opacity="0.578"/><circle cx="475.18" cy="458.15" r="3.7" fill-opacity="0.438" stroke-opacity="0.438"/><circle cx="475.18" cy="464.57" r="3.7" fill-opacity="0.250" stroke-opacity="0.250"/><circle cx="475.18" cy="471.00" r="3.7" fill-opacity="0.250" stroke-opacity="0.250"/><circle cx="475.18" cy="477.42" r="3.7" fill-opacity="0.250" stroke-opacity="0.250"/><circle cx="489.48" cy="342.50" r="3.7" fill-opacity="0.578" stroke-opacity="0.578"/><circle cx="489.48" cy="348.93" r="3.7" fill-opacity="0.250" stroke-opacity="0.250"/><circle cx="489.48" cy="355.35" r="3.7" fill-opacity="0.578" stroke-opacity="0.578"/><circle cx="489.48" cy="361.77" r="3.7" fill-opacity="0.578" stroke-opacity="0.578"/><circle cx="489.48" cy="368.20" r="3.7" fill-opacity="0.250" stroke-opacity="0.250"/><circle cx="489.48" cy="374.62" r="3.7" fill-opacity="0.684" stroke-opacity="0.684"/><circle cx="489.48" cy="381.05" r="3.7" fill-opacity="0.578" stroke-opacity="0.578"/><circle cx="489.48" cy="387.48" r="3.7" fill-opacity="0.250" stroke-opacity="0.250"/><circle cx="489.48" cy="400.32" r="3.7" fill-opacity="0.578" stroke-opacity="0.578"/><circle cx="489.48" cy="413.18" r="3.7" fill-opacity="0.684" stroke-opacity="0.684"/><circle cx="489.48" cy="419.60" r="3.7" fill-opacity="0.438" stroke-opacity="0.438"/><circle cx="489.48" cy="432.45" r="3.7" fill-opacity="0.250" stroke-opacity="0.250"/><circle cx="489.48" cy="458.15" r="3.7" fill-opacity="0.578" stroke-opacity="0.578"/><circle cx="489.48" cy="496.70" r="3.7" fill-opacity="0.250" stroke-opacity="0.250"/><circle cx="489.48" cy="522.40" r="3.7" fill-opacity="0.250" stroke-opacity="0.250"/><circle cx="503.77" cy="342.50" r="3.7" fill-opacity="0.684" stroke-opacity="0.684"/><circle cx="503.77" cy="348.93" r="3.7" fill-opacity="0.578" stroke-opacity="0.578"/><circle cx="503.77" cy="355.35" r="3.7" fill-opacity="0.438" stroke-opacity="0.438"/><circle cx="503.77" cy="361.77" r="3.7" fill-opacity="0.763" stroke-opacity="0.763"/><circle cx="503.77" cy="368.20" r="3.7" fill-opacity="0.684" stroke-opacity="0.684"/><circle cx="503.77" cy="374.62" r="3.7" fill-opacity="0.438" stroke-opacity="0.438"/><circle cx="503.77" cy="381.05" r="3.7" fill-opacity="0.578" stroke-opacity="0.578"/><circle cx="503.77" cy="387.48" r="3.7" fill-opacity="0.578" stroke-opacity="0.578"/><circle cx="503.77" cy="400.32" r="3.7" fill-opacity="0.438" stroke-opacity="0.438"/><circle cx="503.77" cy="406.75" r="3.7" fill-opacity="0.250" stroke-opacity="0.250"/><circle cx="503.77" cy="413.18" r="3.7" fill-opacity="0.250" stroke-opacity="0.250"/><circle cx="503.77" cy="438.88" r="3.7" fill-opacity="0.438" stroke-opacity="0.438"/><circle cx="503.77" cy="445.30" r="3.7" fill-opacity="0.250" stroke-opacity="0.250"/><circle cx="503.77" cy="451.73" r="3.7" fill-opacity="0.250" stroke-opacity="0.250"/><circle cx="503.77" cy="458.15" r="3.7" fill-opacity="0.250" stroke-opacity="0.250"/><circle cx="518.06" cy="342.50" r="3.7" fill-opacity="0.578" stroke-opacity="0.578"/><circle cx="518.06" cy="348.93" r="3.7" fill-opacity="0.438" stroke-opacity="0.438"/><circle cx="518.06" cy="355.35" r="3.7" fill-opacity="0.438" stroke-opacity="0.438"/><circle cx="518.06" cy="361.77" r="3.7" fill-opacity="0.684" stroke-opacity="0.684"/><circle cx="518.06" cy="368.20" r="3.7" fill-opacity="0.438" stroke-opacity="0.438"/><circle cx="518.06" cy="374.62" r="3.7" fill-opacity="0.250" stroke-opacity="0.250"/><circle cx="518.06" cy="381.05" r="3.7" fill-opacity="0.438" stroke-opacity="0.438"/><circle cx="518.06" cy="400.32" r="3.7" fill-opacity="0.578" stroke-opacity="0.578"/><circle cx="518.06" cy="413.18" r="3.7" fill-opacity="0.250" stroke-opacity="0.250"/><circle cx="518.06" cy="432.45" r="3.7" fill-opacity="0.250" stroke-opacity="0.250"/><circle cx="532.36" cy="342.50" r="3.7" fill-opacity="0.578" stroke-opacity="0.578"/><circle cx="532.36" cy="348.93" r="3.7" fill-opacity="0.438" stroke-opacity="0.438"/><circle cx="532.36" cy="355.35" r="3.7" fill-opacity="0.578" stroke-opacity="0.578"/><circle cx="532.36" cy="361.77" r="3.7" fill-opacity="0.438" stroke-opacity="0.438"/><circle cx="532.36" cy="368.20" r="3.7" fill-opacity="0.578" stroke-opacity="0.578"/><circle cx="532.36" cy="374.62" r="3.7" fill-opacity="0.578" stroke-opacity="0.578"/><circle cx="532.36" cy="400.32" r="3.7" fill-opacity="0.438" stroke-opacity="0.438"/><circle cx="546.65" cy="342.50" r="3.7" fill-opacity="0.684" stroke-opacity="0.684"/><circle cx="546.65" cy="348.93" r="3.7" fill-opacity="0.438" stroke-opacity="0.438"/><circle cx="546.65" cy="355.35" r="3.7" fill-opacity="0.250" stroke-opacity="0.250"/><circle cx="546.65" cy="361.77" r="3.7" fill-opacity="0.578" stroke-opacity="0.578"/><circle cx="546.65" cy="368.20" r="3.7" fill-opacity="0.438" stroke-opacity="0.438"/><circle cx="546.65" cy="381.05" r="3.7" fill-opacity="0.250" stroke-opacity="0.250"/><circle cx="546.65" cy="406.75" r="3.7" fill-opacity="0.250" stroke-opacity="0.250"/><circle cx="546.65" cy="438.88" r="3.7" fill-opacity="0.250" stroke-opacity="0.250"/><circle cx="546.65" cy="34.10" r="3.7" fill-opacity="0.250" stroke-opacity="0.250"/><circle cx="560.95" cy="342.50" r="3.7" fill-opacity="0.763" stroke-opacity="0.763"/><circle cx="560.95" cy="348.93" r="3.7" fill-opacity="0.578" stroke-opacity="0.578"/><circle cx="560.95" cy="355.35" r="3.7" fill-opacity="0.578" stroke-opacity="0.578"/><circle cx="560.95" cy="361.77" r="3.7" fill-opacity="0.250" stroke-opacity="0.250"/><circle cx="560.95" cy="368.20" r="3.7" fill-opacity="0.438" stroke-opacity="0.438"/><circle cx="560.95" cy="374.62" r="3.7" fill-opacity="0.438" stroke-opacity="0.438"/><circle cx="560.95" cy="393.90" r="3.7" fill-opacity="0.250" stroke-opacity="0.250"/><circle cx="560.95" cy="406.75" r="3.7" fill-opacity="0.438" stroke-opacity="0.438"/><circle cx="560.95" cy="419.60" r="3.7" fill-opacity="0.250" stroke-opacity="0.250"/><circle cx="560.95" cy="438.88" r="3.7" fill-opacity="0.250" stroke-opacity="0.250"/><circle cx="560.95" cy="445.30" r="3.7" fill-opacity="0.250" stroke-opacity="0.250"/><circle cx="560.95" cy="451.73" r="3.7" fill-opacity="0.250" stroke-opacity="0.250"/><circle cx="560.95" cy="458.15" r="3.7" fill-opacity="0.250" stroke-opacity="0.250"/><circle cx="560.95" cy="477.42" r="3.7" fill-opacity="0.250" stroke-opacity="0.250"/><circle cx="661.01" cy="406.75" r="3.7" fill-opacity="0.250" stroke-opacity="0.250"/></g>
<g clip-path="url(#pc)"><line x1="106.0" y1="438.70" x2="687.6" y2="369.08" stroke="#6B9DE8" stroke-width="4.2"/><line x1="106.0" y1="430.40" x2="687.6" y2="378.40" stroke="#A4A4A4" stroke-width="4.2"/><line x1="106.0" y1="446.62" x2="687.6" y2="360.19" stroke="#E6AC40" stroke-width="4.2"/></g>
<rect x="104.5" y="7.3" width="2" height="594.2" fill="#333333" fill-opacity="0.75"/>
<rect x="104.5" y="599.7" width="583.1" height="1.7" fill="#333333"/>
<rect x="98.2" y="116.40" width="6.8" height="2.4" fill="#333333"/>
<rect x="98.2" y="260.60" width="6.8" height="2.4" fill="#333333"/>
<rect x="98.2" y="404.90" width="6.8" height="2.4" fill="#333333"/>
<rect x="98.2" y="549.40" width="6.8" height="2.4" fill="#333333"/>
<rect x="235.90" y="600.5" width="2.4" height="7.6" fill="#333333"/>
<rect x="378.80" y="600.5" width="2.4" height="7.6" fill="#333333"/>
<rect x="521.70" y="600.5" width="2.4" height="7.6" fill="#333333"/>
<rect x="664.90" y="600.5" width="2.4" height="7.6" fill="#333333"/>
<text transform="translate(69,126.0) scale(1,1.04)" font-family="Liberation Sans, Arial, sans-serif" font-size="23.2" fill="#404040" text-anchor="middle">5.0</text>
<text transform="translate(69,270.2) scale(1,1.04)" font-family="Liberation Sans, Arial, sans-serif" font-size="23.2" fill="#404040" text-anchor="middle">2.5</text>
<text transform="translate(69,414.5) scale(1,1.04)" font-family="Liberation Sans, Arial, sans-serif" font-size="23.2" fill="#404040" text-anchor="middle">0.0</text>
<text transform="translate(69,559.0) scale(1,1.04)" font-family="Liberation Sans, Arial, sans-serif" font-size="23.2" fill="#404040" text-anchor="middle">-2.5</text>
<text transform="translate(237.1,636.2) scale(1,1.02)" font-family="Liberation Sans, Arial, sans-serif" font-size="23.2" fill="#404040" text-anchor="middle">-<tspan font-family="NanumGothic, Liberation Sans, sans-serif" dx="1.10">1</tspan><tspan dx="-2.26"></tspan></text>
<text transform="translate(380.0,636.2) scale(1,1.02)" font-family="Liberation Sans, Arial, sans-serif" font-size="23.2" fill="#404040" text-anchor="middle">0</text>
<text transform="translate(522.9,636.2) scale(1,1.02)" font-family="Liberation Sans, Arial, sans-serif" font-size="23.2" fill="#404040" text-anchor="middle"><tspan font-family="NanumGothic, Liberation Sans, sans-serif" dx="1.50">1</tspan><tspan dx="-2.66"></tspan></text>
<text transform="translate(666.1,636.2) scale(1,1.02)" font-family="Liberation Sans, Arial, sans-serif" font-size="23.2" fill="#404040" text-anchor="middle">2</text>
<text x="396.6" y="682.2" font-family="Liberation Sans, Arial, sans-serif" font-size="29.4" fill="#404040" text-anchor="middle">Social Support in Physical Activities</text>
<text transform="translate(27.6,303.9) rotate(-90)" font-family="Liberation Sans, Arial, sans-serif" font-size="29.4" fill="#404040" text-anchor="middle">Physical Literacy</text>
<text x="835.2" y="260.2" font-family="Liberation Sans, Arial, sans-serif" font-size="29.4" fill="#404040" text-anchor="middle">name</text>
<line x1="731.1" y1="309.40" x2="763.6" y2="278.40" stroke="#6B9DE8" stroke-width="4.2"/>
<text x="778.3" y="305.0" font-family="Liberation Sans, Arial, sans-serif" font-size="29.4" fill="#404040">Average</text>
<line x1="731.1" y1="340.90" x2="763.6" y2="309.90" stroke="#A4A4A4" stroke-width="4.2"/>
<text x="778.3" y="336.0" font-family="Liberation Sans, Arial, sans-serif" font-size="29.4" fill="#404040">Low (-<tspan font-family="NanumGothic, Liberation Sans, sans-serif" dx="-1.30">1</tspan><tspan dx="-0.17">SD)</tspan></text>
<line x1="731.1" y1="373.10" x2="763.6" y2="342.10" stroke="#E6AC40" stroke-width="4.2"/>
<text x="778.3" y="368.0" font-family="Liberation Sans, Arial, sans-serif" font-size="29.4" fill="#404040">High (+<tspan font-family="NanumGothic, Liberation Sans, sans-serif" dx="-0.60">1</tspan><tspan dx="-0.87">SD)</tspan></text>
</svg>
</body></html>
